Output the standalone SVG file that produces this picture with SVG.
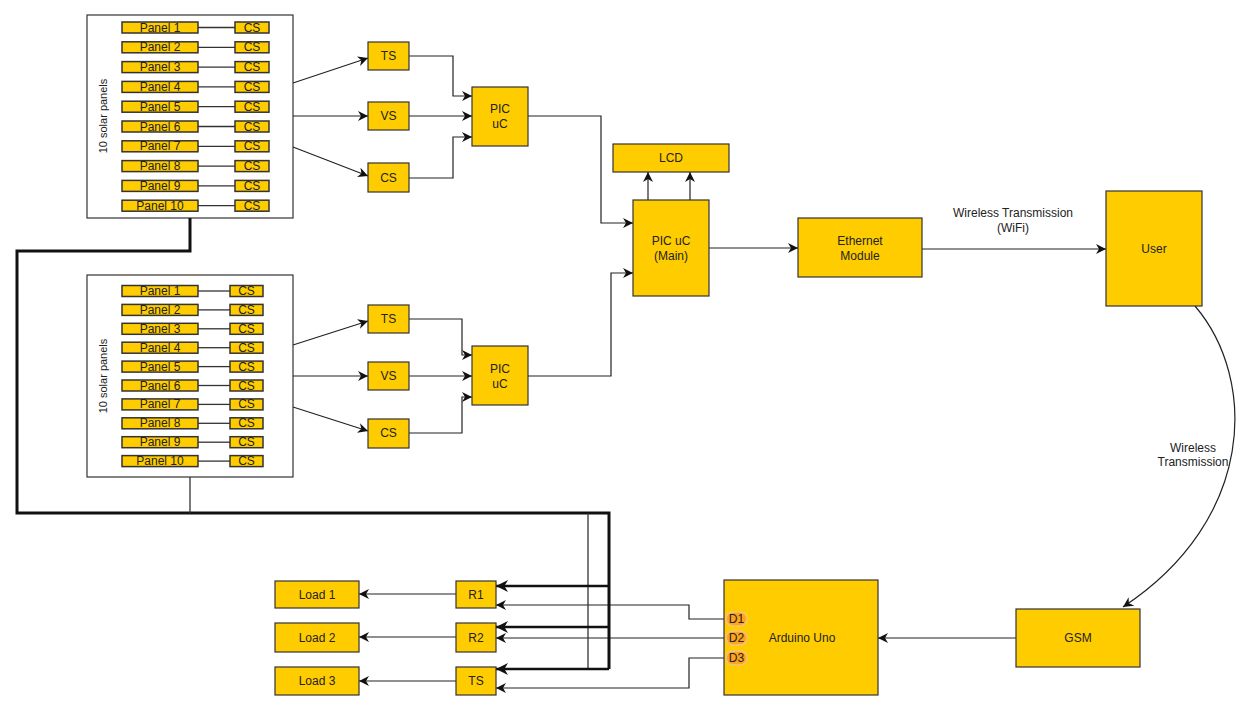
<svg xmlns="http://www.w3.org/2000/svg" width="1251" height="710" viewBox="0 0 1251 710">
<defs>
<marker id="ah" viewBox="0 0 10 10" refX="10" refY="5" markerWidth="10" markerHeight="10" markerUnits="userSpaceOnUse" orient="auto">
<path d="M0,0 L10,5 L0,10 L3,5 z" fill="#111"/>
</marker>
<marker id="ahb" viewBox="0 0 10 10" refX="10" refY="5" markerWidth="12" markerHeight="12" markerUnits="userSpaceOnUse" orient="auto">
<path d="M0,0 L10,5 L0,10 L3,5 z" fill="#111"/>
</marker>
</defs>
<style>
.n{fill:#FFCC00;stroke:#333;stroke-width:1.2}
.p{fill:#FFCC00;stroke:#333;stroke-width:1.5}
.g{fill:#fff;stroke:#333;stroke-width:1.2}
text{font-family:"Liberation Sans",Arial,sans-serif;font-size:12px;fill:#222;text-anchor:middle;dominant-baseline:central}
.sm{font-size:11px}
.c{fill:none;stroke:#333;stroke-width:1.3}
.a{fill:none;stroke:#222;stroke-width:1.2;marker-end:url(#ah)}
.t{fill:none;stroke:#111;stroke-width:3}
.ta{fill:none;stroke:#111;stroke-width:2.5;marker-end:url(#ahb)}
.d{fill:#FFA41C;stroke:#F8C27A;stroke-width:1.5}
</style>

<g id="group1">
<rect class="g" x="87" y="15" width="206" height="203"/>
<text class="sm" x="103" y="116" transform="rotate(-90 103 116)">10 solar panels</text>
</g>
<g id="group2">
<rect class="g" x="87" y="275" width="206" height="202"/>
<text class="sm" x="103" y="376" transform="rotate(-90 103 376)">10 solar panels</text>
</g>

<g id="connectors">
<g id="panel-links">
<line class="c" x1="198" y1="27.5" x2="235" y2="27.5"/>
<line class="c" x1="198" y1="47.3" x2="235" y2="47.3"/>
<line class="c" x1="198" y1="67.1" x2="235" y2="67.1"/>
<line class="c" x1="198" y1="86.9" x2="235" y2="86.9"/>
<line class="c" x1="198" y1="106.7" x2="235" y2="106.7"/>
<line class="c" x1="198" y1="126.5" x2="235" y2="126.5"/>
<line class="c" x1="198" y1="146.3" x2="235" y2="146.3"/>
<line class="c" x1="198" y1="166.1" x2="235" y2="166.1"/>
<line class="c" x1="198" y1="185.9" x2="235" y2="185.9"/>
<line class="c" x1="198" y1="205.7" x2="235" y2="205.7"/>
<line class="c" x1="198" y1="291" x2="230" y2="291"/>
<line class="c" x1="198" y1="309.9" x2="230" y2="309.9"/>
<line class="c" x1="198" y1="328.8" x2="230" y2="328.8"/>
<line class="c" x1="198" y1="347.7" x2="230" y2="347.7"/>
<line class="c" x1="198" y1="366.6" x2="230" y2="366.6"/>
<line class="c" x1="198" y1="385.5" x2="230" y2="385.5"/>
<line class="c" x1="198" y1="404.4" x2="230" y2="404.4"/>
<line class="c" x1="198" y1="423.3" x2="230" y2="423.3"/>
<line class="c" x1="198" y1="442.2" x2="230" y2="442.2"/>
<line class="c" x1="198" y1="461.1" x2="230" y2="461.1"/>
</g>
<path class="a" d="M293,83L368,58"/>
<path class="a" d="M293,116H368"/>
<path class="a" d="M293,147L368,176"/>
<path class="a" d="M409,56H453V96H472"/>
<path class="a" d="M409,116H472"/>
<path class="a" d="M409,178H453V137H472"/>
<path class="a" d="M293,345L368,321"/>
<path class="a" d="M293,376H368"/>
<path class="a" d="M293,407L368,431"/>
<path class="a" d="M409,319H462V355H472"/>
<path class="a" d="M409,376H472"/>
<path class="a" d="M409,433H462V397H472"/>
<path class="a" d="M528,116H601V223H633"/>
<path class="a" d="M528,376H611V273H633"/>
<path class="a" d="M648,200V172"/>
<path class="a" d="M690,200V172"/>
<path class="a" d="M709,248H798"/>
<path class="a" d="M922,249H1106"/>
<text x="1013" y="213">Wireless Transmission</text>
<text x="1013" y="228">(WiFi)</text>
<path class="a" d="M1195,306C1258,380 1255,520 1123,607"/>
<text x="1193" y="448">Wireless</text>
<text x="1193" y="462">Transmission</text>
<path class="a" d="M1016,638H878"/>
<path class="a" d="M724,619H689V605H496"/>
<path class="a" d="M724,638H496"/>
<path class="a" d="M724,658H689V688H496"/>
<path class="a" d="M456,594H359"/>
<path class="a" d="M456,637H359"/>
<path class="a" d="M456,681H359"/>
<path class="t" d="M190,218V251H17V513H609V669"/>
<path class="c" d="M190,477V513"/>
<path class="c" d="M588,513V669"/>
<path class="ta" d="M609,586H496"/>
<path class="ta" d="M609,627H496"/>
<path class="ta" d="M609,669H496"/>
</g>

<g id="g1-panels">
<rect class="p" x="122" y="22" width="76" height="11"/><text x="160" y="27.5">Panel 1</text>
<rect class="p" x="122" y="41.8" width="76" height="11"/><text x="160" y="47.3">Panel 2</text>
<rect class="p" x="122" y="61.6" width="76" height="11"/><text x="160" y="67.1">Panel 3</text>
<rect class="p" x="122" y="81.4" width="76" height="11"/><text x="160" y="86.9">Panel 4</text>
<rect class="p" x="122" y="101.2" width="76" height="11"/><text x="160" y="106.7">Panel 5</text>
<rect class="p" x="122" y="121" width="76" height="11"/><text x="160" y="126.5">Panel 6</text>
<rect class="p" x="122" y="140.8" width="76" height="11"/><text x="160" y="146.3">Panel 7</text>
<rect class="p" x="122" y="160.6" width="76" height="11"/><text x="160" y="166.1">Panel 8</text>
<rect class="p" x="122" y="180.4" width="76" height="11"/><text x="160" y="185.9">Panel 9</text>
<rect class="p" x="122" y="200.2" width="76" height="11"/><text x="160" y="205.7">Panel 10</text>
</g>
<g id="g1-cs">
<rect class="p" x="235" y="22" width="34" height="11"/><text x="252" y="27.5">CS</text>
<rect class="p" x="235" y="41.8" width="34" height="11"/><text x="252" y="47.3">CS</text>
<rect class="p" x="235" y="61.6" width="34" height="11"/><text x="252" y="67.1">CS</text>
<rect class="p" x="235" y="81.4" width="34" height="11"/><text x="252" y="86.9">CS</text>
<rect class="p" x="235" y="101.2" width="34" height="11"/><text x="252" y="106.7">CS</text>
<rect class="p" x="235" y="121" width="34" height="11"/><text x="252" y="126.5">CS</text>
<rect class="p" x="235" y="140.8" width="34" height="11"/><text x="252" y="146.3">CS</text>
<rect class="p" x="235" y="160.6" width="34" height="11"/><text x="252" y="166.1">CS</text>
<rect class="p" x="235" y="180.4" width="34" height="11"/><text x="252" y="185.9">CS</text>
<rect class="p" x="235" y="200.2" width="34" height="11"/><text x="252" y="205.7">CS</text>
</g>

<g id="g2-panels">
<rect class="p" x="122" y="285.5" width="76" height="11"/><text x="160" y="291">Panel 1</text>
<rect class="p" x="122" y="304.4" width="76" height="11"/><text x="160" y="309.9">Panel 2</text>
<rect class="p" x="122" y="323.3" width="76" height="11"/><text x="160" y="328.8">Panel 3</text>
<rect class="p" x="122" y="342.2" width="76" height="11"/><text x="160" y="347.7">Panel 4</text>
<rect class="p" x="122" y="361.1" width="76" height="11"/><text x="160" y="366.6">Panel 5</text>
<rect class="p" x="122" y="380" width="76" height="11"/><text x="160" y="385.5">Panel 6</text>
<rect class="p" x="122" y="398.9" width="76" height="11"/><text x="160" y="404.4">Panel 7</text>
<rect class="p" x="122" y="417.8" width="76" height="11"/><text x="160" y="423.3">Panel 8</text>
<rect class="p" x="122" y="436.7" width="76" height="11"/><text x="160" y="442.2">Panel 9</text>
<rect class="p" x="122" y="455.6" width="76" height="11"/><text x="160" y="461.1">Panel 10</text>
</g>
<g id="g2-cs">
<rect class="p" x="230" y="285.5" width="33" height="11"/><text x="246.5" y="291">CS</text>
<rect class="p" x="230" y="304.4" width="33" height="11"/><text x="246.5" y="309.9">CS</text>
<rect class="p" x="230" y="323.3" width="33" height="11"/><text x="246.5" y="328.8">CS</text>
<rect class="p" x="230" y="342.2" width="33" height="11"/><text x="246.5" y="347.7">CS</text>
<rect class="p" x="230" y="361.1" width="33" height="11"/><text x="246.5" y="366.6">CS</text>
<rect class="p" x="230" y="380" width="33" height="11"/><text x="246.5" y="385.5">CS</text>
<rect class="p" x="230" y="398.9" width="33" height="11"/><text x="246.5" y="404.4">CS</text>
<rect class="p" x="230" y="417.8" width="33" height="11"/><text x="246.5" y="423.3">CS</text>
<rect class="p" x="230" y="436.7" width="33" height="11"/><text x="246.5" y="442.2">CS</text>
<rect class="p" x="230" y="455.6" width="33" height="11"/><text x="246.5" y="461.1">CS</text>
</g>

<g id="ts1"><rect class="n" x="368" y="42" width="41" height="28"/><text x="388.5" y="56">TS</text></g>
<g id="vs1"><rect class="n" x="368" y="102" width="41" height="28"/><text x="388.5" y="116">VS</text></g>
<g id="cs1"><rect class="n" x="368" y="163" width="41" height="29"/><text x="388.5" y="178">CS</text></g>
<g id="pic1"><rect class="n" x="472" y="87" width="56" height="59"/><text x="500" y="109">PIC</text><text x="500" y="124">uC</text></g>

<g id="ts2"><rect class="n" x="368" y="305" width="41" height="28"/><text x="388.5" y="319">TS</text></g>
<g id="vs2"><rect class="n" x="368" y="362" width="41" height="28"/><text x="388.5" y="376">VS</text></g>
<g id="cs2"><rect class="n" x="368" y="419" width="41" height="29"/><text x="388.5" y="433">CS</text></g>
<g id="pic2"><rect class="n" x="472" y="346" width="56" height="59"/><text x="500" y="369">PIC</text><text x="500" y="384">uC</text></g>

<g id="lcd"><rect class="n" x="613" y="144" width="116" height="28"/><text x="671" y="158">LCD</text></g>
<g id="picmain"><rect class="n" x="633" y="200" width="76" height="96"/><text x="671" y="241">PIC uC</text><text x="671" y="256">(Main)</text></g>
<g id="ethernet"><rect class="n" x="798" y="218" width="124" height="59"/><text x="860" y="241">Ethernet</text><text x="860" y="256">Module</text></g>
<g id="user"><rect class="n" x="1106" y="191" width="96" height="115"/><text x="1154" y="249">User</text></g>
<g id="gsm"><rect class="n" x="1016" y="609" width="124" height="58"/><text x="1078" y="638">GSM</text></g>
<g id="arduino"><rect class="n" x="724" y="580" width="154" height="115"/><text x="802" y="638">Arduino Uno</text>
<rect class="d" x="726" y="612" width="21" height="14" rx="7"/><text x="736.5" y="619">D1</text>
<rect class="d" x="726" y="631" width="21" height="14" rx="7"/><text x="736.5" y="638">D2</text>
<rect class="d" x="726" y="651" width="21" height="14" rx="7"/><text x="736.5" y="658">D3</text>
</g>
<g id="r1"><rect class="n" x="456" y="581" width="40" height="27"/><text x="476" y="594.5">R1</text></g>
<g id="r2"><rect class="n" x="456" y="623" width="40" height="29"/><text x="476" y="637.5">R2</text></g>
<g id="ts3"><rect class="n" x="456" y="667" width="40" height="28"/><text x="476" y="681">TS</text></g>
<g id="load1"><rect class="n" x="275" y="581" width="84" height="27"/><text x="317" y="594.5">Load 1</text></g>
<g id="load2"><rect class="n" x="275" y="623" width="84" height="29"/><text x="317" y="637.5">Load 2</text></g>
<g id="load3"><rect class="n" x="275" y="667" width="84" height="28"/><text x="317" y="681">Load 3</text></g>
</svg>
